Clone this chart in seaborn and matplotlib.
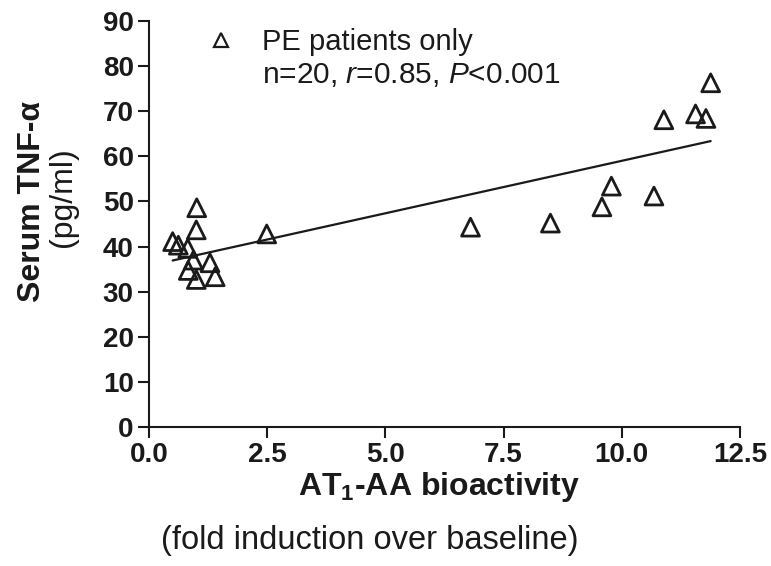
import numpy as np
import pandas as pd
import matplotlib
matplotlib.use('Agg')
import matplotlib.pyplot as plt
from matplotlib.lines import Line2D
import seaborn as sns

# AT1-AA bioactivity (fold induction) vs serum TNF-alpha (pg/ml), PE patients
at1_aa = [0.50, 0.62, 0.82, 0.83, 0.94, 1.00, 1.00, 1.01, 1.29, 1.40, 2.49,
          6.80, 8.49, 9.58, 9.78, 10.68, 10.89, 11.56, 11.78, 11.88]
tnf_alpha = [41.1, 40.3, 39.6, 34.7, 37.0, 32.7, 43.7, 48.6, 36.4, 33.3, 42.8,
             44.3, 45.2, 48.8, 53.4, 51.2, 68.1, 69.4, 68.4, 76.3]
x_ticks = [0.0, 2.5, 5.0, 7.5, 10.0, 12.5]
y_ticks = [0, 10, 20, 30, 40, 50, 60, 70, 80, 90]

df = pd.DataFrame({'at1_aa': at1_aa, 'tnf': tnf_alpha})

sns.set_style('ticks')
plt.rcParams['font.family'] = ['Liberation Sans', 'DejaVu Sans']
plt.rcParams['mathtext.fontset'] = 'custom'
plt.rcParams['mathtext.rm'] = 'Liberation Sans'
plt.rcParams['mathtext.it'] = 'Liberation Sans:italic'
plt.rcParams['mathtext.bf'] = 'Liberation Sans:bold'

ink = '#1a1a1a'

fig = plt.figure(figsize=(7.71, 5.66), dpi=100)
ax = fig.add_axes([149 / 771, 1 - 427 / 566, 591 / 771, 406 / 566])

sns.regplot(data=df, x='at1_aa', y='tnf', ax=ax, ci=None, marker='^',
            scatter_kws={'s': 165, 'facecolors': 'none', 'edgecolors': ink,
                         'linewidths': 2.0, 'alpha': 1},
            line_kws={'color': ink, 'linewidth': 1.6})

ax.set_xlim(0, 12.5)
ax.set_ylim(0, 90)
ax.set_xticks(x_ticks)
ax.set_yticks(y_ticks)
ax.set_xticklabels([f'{t:.1f}' for t in x_ticks])
ax.set_yticklabels([str(t) for t in y_ticks])
ax.tick_params(direction='out', length=8, width=1.5, colors=ink, labelsize=20,
               pad=3)
for lbl in ax.get_xticklabels() + ax.get_yticklabels():
    lbl.set_fontweight('bold')
sns.despine(ax=ax)
for side in ['left', 'bottom']:
    ax.spines[side].set_linewidth(1.5)
    ax.spines[side].set_color(ink)
ax.set_xlabel('')
ax.set_ylabel('')

# axis titles (bold first line, plain second line)
fig.text(439 / 771, 1 - 487 / 566, r'AT$_\mathbf{1}$-AA bioactivity',
         ha='center', va='center', fontsize=23, fontweight='bold', color=ink)
fig.text(370 / 771, 1 - 541 / 566, '(fold induction over baseline)',
         ha='center', va='center', fontsize=23.5, color=ink)
fig.text(32 / 771, 1 - 201 / 566, 'Serum TNF-α', rotation=90,
         ha='center', va='center', fontsize=23, fontweight='bold', color=ink)
fig.text(63 / 771, 1 - 197 / 566, '(pg/ml)', rotation=90,
         ha='center', va='center', fontsize=23, color=ink)

# legend / stats
handle = Line2D([], [], marker='^', linestyle='none', markersize=10,
                markerfacecolor='none', markeredgecolor=ink,
                markeredgewidth=1.6)
ax.legend([handle], ['PE patients only'], loc='center left',
          bbox_to_anchor=(0.092, 0.948), frameon=False, fontsize=21,
          handlelength=1.2, handletextpad=0.8, borderpad=0, borderaxespad=0,
          labelcolor=ink)
fig.text(262 / 771, 1 - 75 / 566, 'n=20, $r$=0.85, $P$<0.001',
         ha='left', va='center', fontsize=21.5, color=ink)

fig.savefig('out.png', dpi=100)
